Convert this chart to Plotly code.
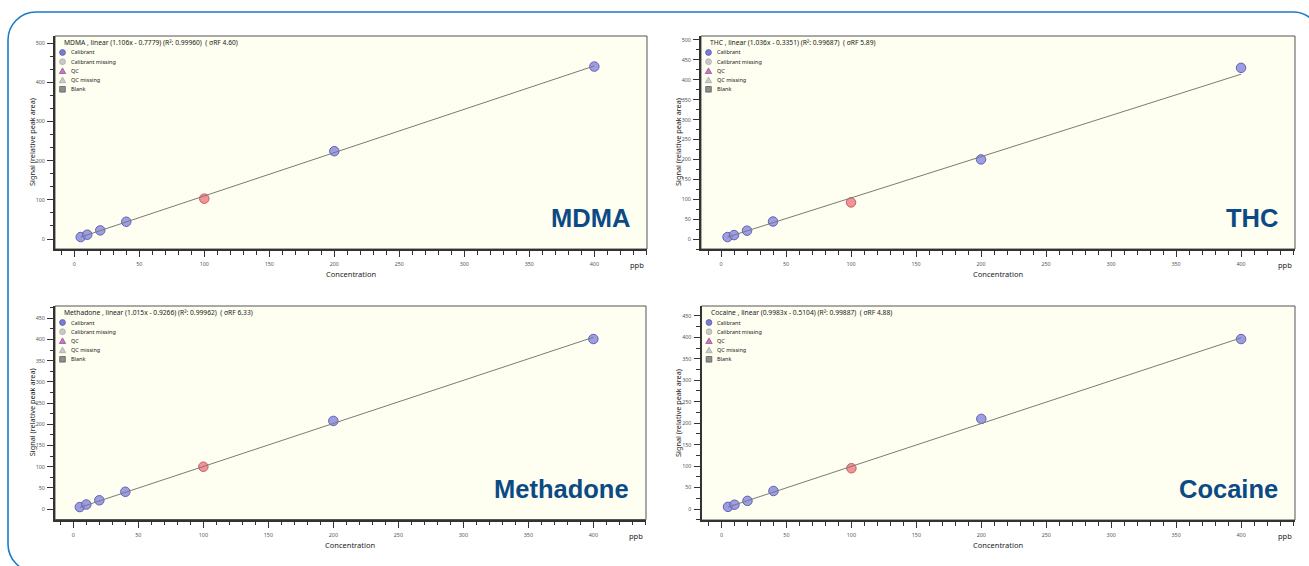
import plotly.graph_objects as go

# ---------------- data ----------------
compounds = ["MDMA", "THC", "Methadone", "Cocaine"]
cal_conc = [5, 10, 20, 40, 200, 400]
qc_conc = [100]
cal_signal = {
    "MDMA": [5, 11, 22, 44, 224, 440],
    "THC": [5, 10, 21, 44, 200, 430],
    "Methadone": [5, 11, 21, 41, 208, 401],
    "Cocaine": [5, 10, 19, 42, 210, 396],
}
qc_signal = {
    "MDMA": [103],
    "THC": [92],
    "Methadone": [100],
    "Cocaine": [95],
}
slopes = [1.106, 1.036, 1.015, 0.9983]
intercepts = [-0.7779, -0.3351, -0.9266, -0.5104]
r2_text = ["0.99960", "0.99687", "0.99962", "0.99887"]
rsd_rf_text = ["4.60", "5.89", "6.33", "4.88"]
legend_labels = ["Calibrant", "Calibrant missing", "QC", "QC missing", "Blank"]
x_tick_step = 50
y_tick_steps = [100, 50, 50, 50]
y_minor_steps = [100 / 3, 25, 25, 25]

# ---------------- layout geometry (pixels) ----------------
W, H = 1309, 566


def px(x):
    return x / W


def py(y):
    return 1 - y / H


# plot-area boxes: left, top, right, bottom (px), x range, y range
panels = [
    dict(box=(55, 36, 647, 249), xr=[-14.8, 440.5], yr=[-25.5, 518]),
    dict(box=(701, 36, 1295, 249), xr=[-15.4, 441.5], yr=[-25, 510]),
    dict(box=(55, 306, 646, 519.5), xr=[-14.1, 440.5], yr=[-24.3, 478.8]),
    dict(box=(701.5, 306, 1295, 520), xr=[-15.4, 441.5], yr=[-25.6, 473]),
]

CAL_FILL = "rgba(140,140,222,0.85)"
CAL_LINE = "#6262b8"
QC_FILL = "rgba(242,135,140,0.9)"
QC_LINE = "#c45c62"
NAME_COLOR = "#0b4a85"
TXT = "#222222"
BASE_FONT = "Noto Sans"

fig = go.Figure()
shapes = []
annotations = []

for i, name in enumerate(compounds):
    p = panels[i]
    l, t, r, b = p["box"]
    ax = "" if i == 0 else str(i + 1)
    xref, yref = "x" + ax, "y" + ax

    # calibrant points
    fig.add_trace(go.Scatter(
        x=cal_conc, y=cal_signal[name], mode="markers", xaxis=xref, yaxis=yref,
        marker=dict(size=9.5, color=CAL_FILL, line=dict(color=CAL_LINE, width=1)),
        showlegend=False, name="Calibrant"))
    # QC point
    fig.add_trace(go.Scatter(
        x=qc_conc, y=qc_signal[name], mode="markers", xaxis=xref, yaxis=yref,
        marker=dict(size=9.5, color=QC_FILL, line=dict(color=QC_LINE, width=1)),
        showlegend=False, name="QC"))
    # fitted line
    xs = [min(cal_conc), max(cal_conc)]
    ys = [slopes[i] * v + intercepts[i] for v in xs]
    fig.add_trace(go.Scatter(
        x=xs, y=ys, mode="lines", xaxis=xref, yaxis=yref,
        line=dict(color="#7a7a7a", width=1), showlegend=False, name="fit"))

    axis_common = dict(
        showgrid=False, zeroline=False, showline=True, linewidth=2, linecolor="#333333",
        ticks="outside", ticklen=6, tickwidth=1, tickcolor="#333333",
        tickfont=dict(family=BASE_FONT, size=5.4, color="#555555"),
        automargin=False, fixedrange=True,
    )
    fig.update_layout(**{
        "xaxis" + ax: dict(
            axis_common, domain=[px(l), px(r)], range=p["xr"], anchor=yref,
            tickmode="linear", tick0=0, dtick=x_tick_step,
            minor=dict(ticks="outside", dtick=10, tick0=0, ticklen=3.5,
                       tickcolor="#333333", tickwidth=1, showgrid=False),
            ticklabelstandoff=3),
        "yaxis" + ax: dict(
            axis_common, domain=[py(b), py(t)], range=p["yr"], anchor=xref,
            tickmode="linear", tick0=0, dtick=y_tick_steps[i],
            minor=dict(ticks="outside", dtick=y_minor_steps[i], tick0=0, ticklen=3.5,
                       tickcolor="#333333", tickwidth=1, showgrid=False),
            ticklabelstandoff=1),
    })

    # frame (top/right)
    shapes.append(dict(type="rect", xref=xref + " domain", yref=yref + " domain",
                       x0=0, x1=1, y0=0, y1=1, line=dict(color="#555555", width=1),
                       layer="below"))

    # header text inside plot
    annotations.append(dict(
        x=px(l + 7), y=py(t + 6.3), xref="paper", yref="paper",
        xanchor="left", yanchor="middle", showarrow=False,
        text=f"{name} , linear ({slopes[i]}x - {abs(intercepts[i])}) (R²: {r2_text[i]})  ( σRF {rsd_rf_text[i]})",
        font=dict(family=BASE_FONT, size=6.7, color=TXT)))

    # in-plot legend
    for k, lab in enumerate(legend_labels):
        cx = l + 7.5
        cy = t + 16.5 + k * 9.2
        annotations.append(dict(
            x=px(cx + 6), y=py(cy), xref="paper", yref="paper",
            xanchor="left", yanchor="middle", showarrow=False, text=lab,
            font=dict(family=BASE_FONT, size=5.5, color=TXT)))
        rr = 2.9
        if k in (0, 1):
            fill, line = ("#7b7bd6", "#5a5ab0") if k == 0 else ("#c9c9c9", "#a9a9a9")
            shapes.append(dict(type="circle", xref="paper", yref="paper",
                               x0=px(cx - rr), x1=px(cx + rr), y0=py(cy + rr), y1=py(cy - rr),
                               fillcolor=fill, line=dict(color=line, width=0.8)))
        elif k in (2, 3):
            fill, line = ("#c37ac3", "#a050a0") if k == 2 else ("#cacaca", "#a9a9a9")
            path = (f"M {px(cx - 3.2)},{py(cy + 2.6)} L {px(cx + 3.2)},{py(cy + 2.6)} "
                    f"L {px(cx)},{py(cy - 3.0)} Z")
            shapes.append(dict(type="path", xref="paper", yref="paper", path=path,
                               fillcolor=fill, line=dict(color=line, width=0.8)))
        else:
            shapes.append(dict(type="rect", xref="paper", yref="paper",
                               x0=px(cx - 2.8), x1=px(cx + 2.8), y0=py(cy + 2.8), y1=py(cy - 2.8),
                               fillcolor="#8f8f8f", line=dict(color="#5e5e5e", width=0.8)))

    # big compound name
    annotations.append(dict(
        x=px(r - 15.5), y=py(b - 31), xref="paper", yref="paper",
        xanchor="right", yanchor="middle", showarrow=False, text=f"<b>{name}</b>",
        font=dict(family="Liberation Sans", size=25.5, color=NAME_COLOR)))

    # axis titles
    annotations.append(dict(
        x=px(l - 23.5), y=py((t + b) / 2), xref="paper", yref="paper",
        xanchor="center", yanchor="middle", showarrow=False, textangle=-90,
        text="Signal (relative peak area)",
        font=dict(family=BASE_FONT, size=7.3, color=TXT)))
    annotations.append(dict(
        x=px((l + r) / 2 - 0.5), y=py(b + 25), xref="paper", yref="paper",
        xanchor="center", yanchor="middle", showarrow=False, text="Concentration",
        font=dict(family=BASE_FONT, size=7.5, color=TXT)))
    annotations.append(dict(
        x=px(r - 10), y=py(b + 16), xref="paper", yref="paper",
        xanchor="center", yanchor="middle", showarrow=False, text="ppb",
        font=dict(family=BASE_FONT, size=7.5, color=TXT)))

# outer rounded border
bx0, by0, bx1, by1, rad = 8, 12, 1321, 572, 28
k = 0.5523 * rad


def P(x, y):
    return f"{px(x)},{py(y)}"


border = (f"M {P(bx0 + rad, by0)} L {P(bx1 - rad, by0)} "
          f"C {P(bx1 - rad + k, by0)} {P(bx1, by0 + rad - k)} {P(bx1, by0 + rad)} "
          f"L {P(bx1, by1 - rad)} "
          f"C {P(bx1, by1 - rad + k)} {P(bx1 - rad + k, by1)} {P(bx1 - rad, by1)} "
          f"L {P(bx0 + rad, by1)} "
          f"C {P(bx0 + rad - k, by1)} {P(bx0, by1 - rad + k)} {P(bx0, by1 - rad)} "
          f"L {P(bx0, by0 + rad)} "
          f"C {P(bx0, by0 + rad - k)} {P(bx0 + rad - k, by0)} {P(bx0 + rad, by0)} Z")
shapes.append(dict(type="path", xref="paper", yref="paper", path=border,
                   line=dict(color="#1b7bc9", width=1.6), layer="below"))

fig.update_layout(
    width=W, height=H, margin=dict(l=0, r=0, t=0, b=0),
    paper_bgcolor="white", plot_bgcolor="#fefef1",
    showlegend=False, shapes=shapes, annotations=annotations,
    font=dict(family=BASE_FONT, color=TXT),
)

fig.write_html(
    "out.html",
    config={"displayModeBar": False},
    post_script="document.body.style.margin='0';document.body.style.overflow='hidden';",
)
